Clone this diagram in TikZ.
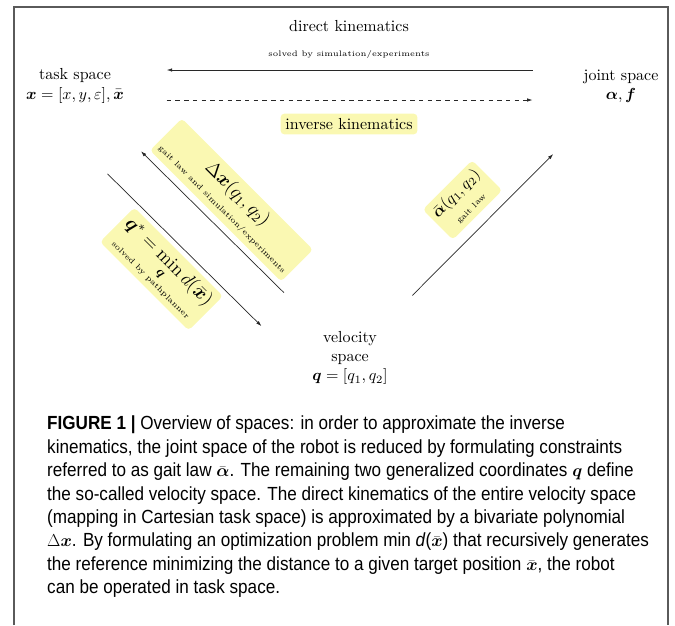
\documentclass[tikz,border=0pt]{standalone}
\usepackage{amsmath, amssymb}
\usepackage{fontspec}
\newfontfamily\capfont[FakeStretch=0.9]{Liberation Sans}
\usetikzlibrary{arrows.meta, positioning, calc}
\definecolor{hlyellow}{RGB}{250,248,178}
\definecolor{framegray}{RGB}{90,90,90}
\definecolor{linegray}{RGB}{40,40,40}
\tikzset{
  spacenode/.style={scale=1.6, align=center},
  hlbox/.style={scale=1.6, align=center, fill=hlyellow, rounded corners=4pt, inner sep=3pt},
  kin/.style={-{Latex[length=5.5pt,width=3.5pt]}, line width=0.7pt, draw=linegray},
}

\begin{document}
\begin{tikzpicture}[x=1pt, y=-1pt]
    \useasboundingbox (0,0) rectangle (675,625);
    \draw[framegray, line width=1.4pt] (14,625) -- (14,7) -- (668,7) -- (668,625);

    % the three spaces
    \node[spacenode] (task) at (75,86) {task space\\ $\boldsymbol{x}=[x,y,\varepsilon],\bar{\boldsymbol{x}}$};
    \node[spacenode] (joint) at (621,86) {joint space\\ $\boldsymbol{\alpha},\boldsymbol{f}$};
    \node[spacenode] (vel) at (350,358) {velocity\\ space\\ $\boldsymbol{q}=[q_1,q_2]$};

    % kinematics between task and joint space
    \draw[kin] ($(joint)!0.162!(task)+(0,-16)$) -- ($(task)!0.168!(joint)+(0,-16)$);
    \draw[kin, dash pattern=on 4.4pt off 4.3pt] ($(task)!0.168!(joint)+(0,14)$) -- ($(joint)!0.162!(task)+(0,14)$);
    \node[spacenode] (dk) at (349,26) {direct kinematics};
    \node[spacenode, font=\tiny] (dksolve) at (349,54) {solved by simulation/experiments};
    \node[hlbox] (ik) at (349,124) {inverse kinematics};

    % velocity space
    \draw[kin] ($(vel)!0.24!(task)$) -- ($(vel)!0.76!(task)$);
    \draw[kin] ($(task)!0.22!(vel)+(-28,28)$) -- ($(vel)!0.22!(task)+(-28,28)$);
    \draw[kin] ($(vel)!0.23!(joint)$) -- ($(joint)!0.25!(vel)$);
    \node[hlbox, rotate=-45] (dx) at ($(task)!0.5!(vel)+(19,-22)$) {{\large$\Delta\boldsymbol{x}(q_1,q_2)$}\\ {\tiny gait law and simulation/experiments}};
    \node[hlbox, rotate=-45] (qstar) at ($(task)!0.5!(vel)+(-51,47)$) {{\large$\boldsymbol{q}^*=\min\limits_{\boldsymbol{q}} d(\bar{\boldsymbol{x}})$}\\ {\tiny solved by pathplanner}};
    \node[hlbox, rotate=45] (abar) at ($(vel)!0.5!(joint)+(-23,-22)$) {$\bar{\boldsymbol{\alpha}}(q_1,q_2)$\\ {\tiny gait law}};

    % caption
    \node[anchor=north west, align=left, inner sep=0pt, font=\capfont\fontsize{19}{23.4}\selectfont] (cap) at (47,416) {\textbf{FIGURE 1 |} Overview of spaces: in order to approximate the inverse\\
kinematics, the joint space of the robot is reduced by formulating constraints\\
referred to as gait law $\bar{\boldsymbol{\alpha}}$. The remaining two generalized coordinates $\boldsymbol{q}$ define\\
the so-called velocity space. The direct kinematics of the entire velocity space\\
(mapping in Cartesian task space) is approximated by a bivariate polynomial\\
$\Delta\boldsymbol{x}$. By formulating an optimization problem min \textit{d}($\bar{\boldsymbol{x}}$) that recursively generates\\
the reference minimizing the distance to a given target position $\bar{\boldsymbol{x}}$, the robot\\
can be operated in task space.};
\end{tikzpicture}
\end{document}
